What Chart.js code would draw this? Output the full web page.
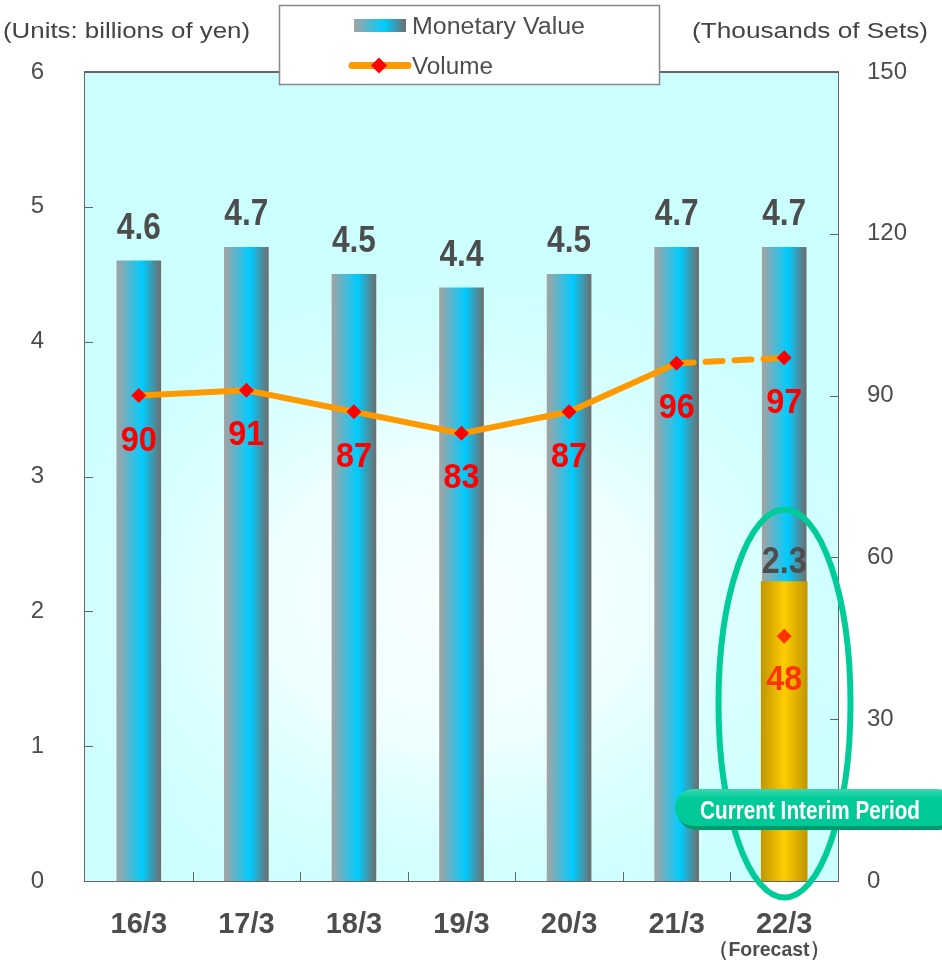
<!DOCTYPE html>
<html>
<head>
<meta charset="utf-8">
<script src="https://cdn.jsdelivr.net/npm/chart.js@4.4.1/dist/chart.umd.min.js"></script>
<style>
html, body { margin: 0; padding: 0; background: #fff; }
#wrap { width: 942px; height: 965px; }
</style>
</head>
<body>
<div id="wrap"><canvas id="chart" width="942" height="965"></canvas></div>
<script>
// ── Data ─────────────────────────────────────────────────
const periods = ['16/3', '17/3', '18/3', '19/3', '20/3', '21/3', '22/3'];
const monetaryValue = [4.6, 4.7, 4.5, 4.4, 4.5, 4.7, 4.7];
const monetaryLabels = ['4.6', '4.7', '4.5', '4.4', '4.5', '4.7', '4.7'];
const interimValue = [null, null, null, null, null, null, 2.22];
const interimValueLabels = [null, null, null, null, null, null, '2.3'];
const volume = [90, 91, 87, 83, 87, 96, 97];
const volumeLabels = ['90', '91', '87', '83', '87', '96', '97'];
const interimVolume = [null, null, null, null, null, null, 45.4];
const interimVolumeLabels = [null, null, null, null, null, null, '48'];
const leftTicks = [0, 1, 2, 3, 4, 5, 6];
const rightTicks = [0, 30, 60, 90, 120, 150];

const FONT = 'Arial, "Liberation Sans", sans-serif';
const BLUE_STOPS = [[0, '#A3A3A3'], [0.58, '#00CCFF'], [1, '#6E6E6E']];
const GOLD_STOPS = [[0, '#C29600'], [0.5, '#FFCC00'], [1, '#C29600']];

function barGradient(ctx, stops, width) {
    const chart = ctx.chart;
    if (!chart.chartArea) return stops[1][1];
    const cx = chart.scales.x.getPixelForValue(ctx.dataIndex);
    const g = chart.ctx.createLinearGradient(cx - width / 2, 0, cx + width / 2, 0);
    stops.forEach(s => g.addColorStop(s[0], s[1]));
    return g;
}

// draw text squeezed/stretched to a given width
function textW(c, text, x, y, w) {
    const m = c.measureText(text).width;
    c.save();
    c.translate(x, y);
    c.scale(w / m, 1);
    c.fillText(text, 0, 0);
    c.restore();
}

function diamond(c, x, y, r, color) {
    c.beginPath();
    c.moveTo(x, y - r); c.lineTo(x + r, y); c.lineTo(x, y + r); c.lineTo(x - r, y);
    c.closePath();
    c.fillStyle = color;
    c.fill();
}

// ── Plot background ──────────────────────────────────────
const bgPlugin = {
    id: 'bg',
    beforeDatasetsDraw(chart) {
        const { ctx: c, chartArea: a } = chart;
        c.save();
        c.beginPath();
        c.rect(a.left, a.top, a.right - a.left, a.bottom - a.top);
        c.clip();
        c.fillStyle = '#CCFFFF';
        c.fillRect(a.left, a.top, a.right - a.left, a.bottom - a.top);
        // elliptical glow, lightest a bit below the middle
        c.translate(455, 600);
        c.scale(1.3, 1);
        const g = c.createRadialGradient(0, 0, 0, 0, 0, 370);
        g.addColorStop(0, '#F8FFFF');
        g.addColorStop(0.4, '#EEFFFF');
        g.addColorStop(1, 'rgba(204,255,255,0)');
        c.fillStyle = g;
        c.fillRect(-500, -600, 1000, 1000);
        c.restore();
    }
};

// ── Labels, ticks, legend, annotations ───────────────────
const overlayPlugin = {
    id: 'overlay',
    afterDraw(chart) {
        const c = chart.ctx;
        const a = chart.chartArea;
        const xs = chart.scales.x, y = chart.scales.y, y2 = chart.scales.y2;
        c.save();

        // top frame line + inward tick marks
        c.strokeStyle = '#666';
        c.lineWidth = 2;
        c.beginPath();
        c.moveTo(a.left - 1, a.top); c.lineTo(a.right + 1, a.top);
        c.stroke();
        c.lineWidth = 1;
        c.beginPath();
        leftTicks.forEach(v => {
            const py = Math.round(y.getPixelForValue(v)) + 0.5;
            c.moveTo(a.left, py); c.lineTo(a.left + 8, py);
        });
        rightTicks.forEach(v => {
            const py = Math.round(y2.getPixelForValue(v)) + 0.5;
            c.moveTo(a.right - 8, py); c.lineTo(a.right, py);
        });
        for (let i = 0; i < periods.length - 1; i++) {
            const px = Math.round((xs.getPixelForValue(i) + xs.getPixelForValue(i + 1)) / 2) + 0.5;
            c.moveTo(px, a.bottom - 9); c.lineTo(px, a.bottom);
        }
        c.stroke();

        // bar value labels
        c.textAlign = 'center';
        c.textBaseline = 'alphabetic';
        c.fillStyle = '#4D4D4D';
        c.font = `bold 36px ${FONT}`;
        monetaryValue.forEach((v, i) => {
            const px = xs.getPixelForValue(i);
            textW(c, monetaryLabels[i], px, y.getPixelForValue(v) - 22, 44);
        });
        interimValue.forEach((v, i) => {
            if (v == null) return;
            textW(c, interimValueLabels[i], xs.getPixelForValue(i), y.getPixelForValue(v) - 9, 45);
        });

        // volume labels
        c.font = `bold 35px ${FONT}`;
        c.fillStyle = '#FF0000';
        volume.forEach((v, i) => {
            textW(c, volumeLabels[i], xs.getPixelForValue(i), y2.getPixelForValue(v) + 55, 36);
        });
        c.fillStyle = '#FF3300';
        interimVolume.forEach((v, i) => {
            if (v == null) return;
            textW(c, interimVolumeLabels[i], xs.getPixelForValue(i), y2.getPixelForValue(v) + 54, 36);
        });

        // ellipse around the interim bar
        c.strokeStyle = '#00CC99';
        c.lineWidth = 6;
        c.beginPath();
        c.ellipse(784.5, 703.5, 66, 194, 0, 0, Math.PI * 2);
        c.stroke();

        // "Current Interim Period" badge
        c.fillStyle = '#00996B';
        c.beginPath();
        c.roundRect(677, 791, 280, 39, 19.5);
        c.fill();
        const bg = c.createLinearGradient(0, 789, 0, 827);
        bg.addColorStop(0, '#3AD9AD');
        bg.addColorStop(0.25, '#00CC99');
        bg.addColorStop(1, '#00C896');
        c.fillStyle = bg;
        c.beginPath();
        c.roundRect(675, 789, 280, 37, 18.5);
        c.fill();
        c.fillStyle = '#FFFFFF';
        c.font = `bold 26px ${FONT}`;
        textW(c, 'Current Interim Period', 810, 819, 220);

        // "(Forecast)"
        c.fillStyle = '#4D4D4D';
        c.font = `bold 21px ${FONT}`;
        textW(c, '（Forecast）', 769, 956, 120);

        // axis titles
        c.font = `22px ${FONT}`;
        c.fillStyle = '#444';
        textW(c, '(Units: billions of yen)', 126.5, 38, 247);
        textW(c, '(Thousands of Sets)', 810, 38, 236);

        // legend box
        c.fillStyle = '#FFFFFF';
        c.fillRect(279, 5, 381, 80);
        c.strokeStyle = '#888';
        c.lineWidth = 1.5;
        c.strokeRect(279.5, 5.5, 380, 79);
        const sg = c.createLinearGradient(354, 0, 406, 0);
        BLUE_STOPS.forEach(s => sg.addColorStop(s[0], s[1]));
        c.fillStyle = sg;
        c.fillRect(354, 19, 52, 13);
        c.strokeStyle = '#FF9900';
        c.lineWidth = 7;
        c.lineCap = 'round';
        c.beginPath();
        c.moveTo(352, 65.5); c.lineTo(408, 65.5);
        c.stroke();
        diamond(c, 379, 65.5, 8, '#FF0000');
        c.fillStyle = '#4D4D4D';
        c.font = `23px ${FONT}`;
        textW(c, 'Monetary Value', 498.5, 34, 173);
        textW(c, 'Volume', 452.5, 74, 81);

        c.restore();
    }
};

// ── Chart ────────────────────────────────────────────────
const ctx = document.getElementById('chart').getContext('2d');
new Chart(ctx, {
    data: {
        labels: periods,
        datasets: [
            {
                type: 'line',
                label: 'Volume',
                data: volume,
                yAxisID: 'y2',
                order: 0,
                borderColor: '#FF9900',
                borderWidth: 6,
                borderCapStyle: 'round',
                tension: 0,
                pointStyle: 'rectRot',
                pointRadius: 7.5,
                pointBorderWidth: 0,
                pointBackgroundColor: '#FF0000',
                segment: {
                    borderDash: s => s.p1DataIndex === periods.length - 1 ? [17, 12] : undefined,
                },
            },
            {
                type: 'line',
                label: 'Interim Volume',
                data: interimVolume,
                yAxisID: 'y2',
                order: 0,
                showLine: false,
                pointStyle: 'rectRot',
                pointRadius: 7.5,
                pointBorderWidth: 0,
                pointBackgroundColor: '#FF3300',
            },
            {
                type: 'bar',
                label: 'Interim Value',
                data: interimValue,
                yAxisID: 'y',
                order: 1,
                grouped: false,
                barThickness: 46,
                backgroundColor: c => barGradient(c, GOLD_STOPS, 46),
            },
            {
                type: 'bar',
                label: 'Monetary Value',
                data: monetaryValue,
                yAxisID: 'y',
                order: 2,
                grouped: false,
                barThickness: 44,
                backgroundColor: c => barGradient(c, BLUE_STOPS, 44),
            },
        ],
    },
    options: {
        responsive: false,
        animation: false,
        devicePixelRatio: 1,
        layout: { padding: { top: 72, left: 0, right: 0, bottom: 0 } },
        plugins: {
            legend: { display: false },
            tooltip: { enabled: false },
        },
        scales: {
            x: {
                offset: true,
                grid: { display: false },
                border: { display: true, color: '#666', width: 2 },
                ticks: {
                    color: '#4D4D4D',
                    font: { size: 29, weight: 'bold', family: FONT },
                    padding: 19,
                    maxRotation: 0,
                },
                afterFit: s => { s.height = 84; },
            },
            y: {
                position: 'left',
                min: 0,
                max: 6,
                grid: { display: false },
                border: { display: true, color: '#666', width: 2 },
                ticks: { stepSize: 1, color: '#4D4D4D', font: { size: 24, family: FONT }, padding: 33 },
                afterFit: s => { s.width = 85; },
            },
            y2: {
                position: 'right',
                min: 0,
                max: 150,
                grid: { display: false },
                border: { display: true, color: '#666', width: 2 },
                ticks: { stepSize: 30, color: '#4D4D4D', font: { size: 24, family: FONT }, padding: 21 },
                afterFit: s => { s.width = 104; },
            },
        },
    },
    plugins: [bgPlugin, overlayPlugin],
});
</script>
</body>
</html>
